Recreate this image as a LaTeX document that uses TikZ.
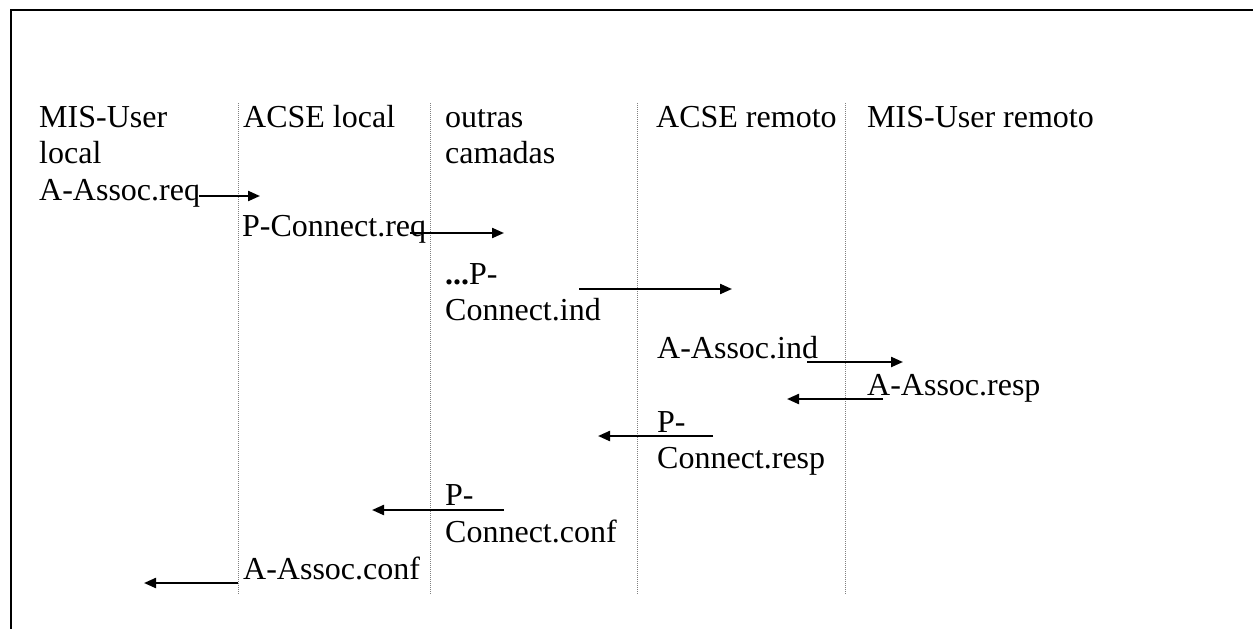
\documentclass[tikz,border=0pt]{standalone}
\usepackage{fontspec}
\setmainfont{Liberation Serif}
\usetikzlibrary{arrows.meta}
\tikzset{
  lbl/.style={anchor=base west, inner sep=0pt, font=\fontsize{32}{37}\selectfont},
  lane/.style={draw=gray, line width=0.8pt, dash pattern=on 1pt off 1pt},
  msg/.style={draw=black, line width=2.2pt, -{Triangle[length=12pt,width=10pt]}},
  frame/.style={draw=black, line width=2pt}
}
\begin{document}
\begin{tikzpicture}[x=1pt,y=-1pt]
\useasboundingbox (0,0) rectangle (1253,629);
% frame
\coordinate (fb) at (11,629);
\coordinate (ftl) at (11,10);
\coordinate (ftr) at (1253,10);
\draw[frame] (fb) -- (ftl) -- (ftr);
% lanes
\foreach \x [count=\i] in {238,430,637,845}{
  \coordinate (lt\i) at (\x,103);
  \coordinate (lb\i) at (\x,594);
  \draw[lane] (lt\i) -- (lb\i);
}
% headers
\node[lbl] (h1) at (39,127) {MIS-User};
\node[lbl] (h1b) at (39,163) {local};
\node[lbl] (h2) at (243,127) {ACSE local};
\node[lbl] (h3) at (445,127) {outras};
\node[lbl] (h3b) at (445,163) {camadas};
\node[lbl] (h4) at (656,127) {ACSE remoto};
\node[lbl] (h5) at (867,127) {MIS-User remoto};
% messages
\node[lbl] (m1) at (39,200) {A-Assoc.req};
\coordinate (a1s) at (199,196); \coordinate (a1e) at (260,196);
\draw[msg] (a1s) -- (a1e);

\node[lbl] (m2) at (242,236) {P-Connect.req};
\coordinate (a2s) at (410,233); \coordinate (a2e) at (504,233);
\draw[msg] (a2s) -- (a2e);

\node[lbl] (m3) at (445,284) {\textbf{...}P-};
\node[lbl] (m3b) at (445,320) {Connect.ind};
\coordinate (a3s) at (579,289); \coordinate (a3e) at (732,289);
\draw[msg] (a3s) -- (a3e);

\node[lbl] (m4) at (657,358) {A-Assoc.ind};
\coordinate (a4s) at (807,362); \coordinate (a4e) at (903,362);
\draw[msg] (a4s) -- (a4e);

\node[lbl] (m5) at (867,395) {A-Assoc.resp};
\coordinate (a5s) at (883,399); \coordinate (a5e) at (787,399);
\draw[msg] (a5s) -- (a5e);

\node[lbl] (m6) at (657,432) {P-};
\node[lbl] (m6b) at (657,468) {Connect.resp};
\coordinate (a6s) at (713,436); \coordinate (a6e) at (598,436);
\draw[msg] (a6s) -- (a6e);

\node[lbl] (m7) at (445,505) {P-};
\node[lbl] (m7b) at (445,542) {Connect.conf};
\coordinate (a7s) at (504,510); \coordinate (a7e) at (372,510);
\draw[msg] (a7s) -- (a7e);

\node[lbl] (m8) at (243,579) {A-Assoc.conf};
\coordinate (a8s) at (238,583); \coordinate (a8e) at (144,583);
\draw[msg] (a8s) -- (a8e);
\end{tikzpicture}
\end{document}
